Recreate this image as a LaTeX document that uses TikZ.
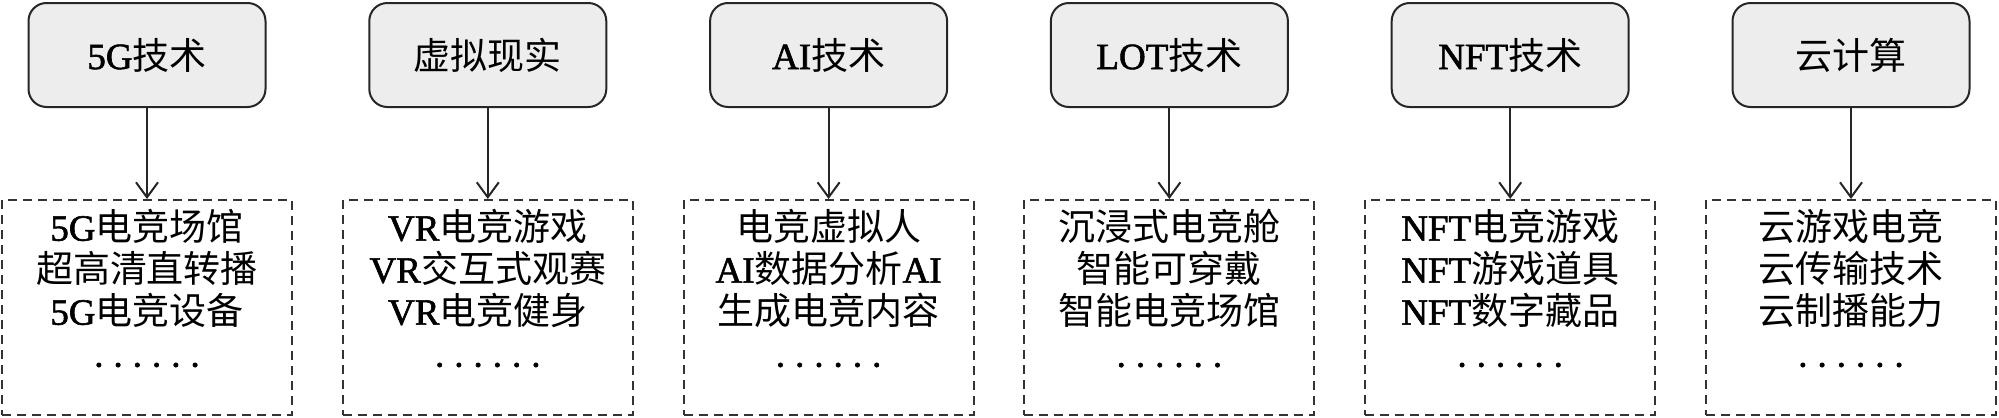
\documentclass[tikz,border=0pt]{standalone}
\usepackage{fontspec}
\setmainfont{Noto Sans CJK SC}
\newfontfamily\en[FakeBold=1.6]{Liberation Serif}
\usetikzlibrary{arrows.meta,positioning,calc}

\newcommand{\lat}[1]{{\en #1}}
\newcommand{\sixdots}{\lat{.\hskip5pt.\hskip5pt.\hskip5pt.\hskip5pt.\hskip5pt.}}

\tikzset{
  techbox/.style={draw=black!85,line width=1pt,fill=black!7,rounded corners=9pt,
    minimum width=118.5pt,minimum height=52pt,inner sep=0pt,
    font=\fontsize{18.5}{21}\selectfont},
  appbox/.style={draw=black!80,line width=1pt,dash pattern=on 4.5pt off 3pt,
    minimum width=145pt,minimum height=107.5pt,inner sep=0pt},
  applist/.style={align=center,inner sep=0pt,font=\fontsize{18.5}{21}\selectfont},
  feed/.style={-{Straight Barb[length=7.5pt,width=11pt]},line width=1pt,draw=black!85}
}

\begin{document}
\begin{tikzpicture}[x=0.5pt,y=-0.5pt]

\useasboundingbox (0,0) rectangle (1999,418);

\foreach \i/\tech/\apps in {
  1/{\lat{5G}技术}/{\lat{5G}电竞场馆\\超高清直转播\\\lat{5G}电竞设备},
  2/{虚拟现实}/{\lat{VR}电竞游戏\\\lat{VR}交互式观赛\\\lat{VR}电竞健身},
  3/{\lat{AI}技术}/{电竞虚拟人\\\lat{AI}数据分析\lat{AI}\\生成电竞内容},
  4/{\lat{LOT}技术}/{沉浸式电竞舱\\智能可穿戴\\智能电竞场馆},
  5/{\lat{NFT}技术}/{\lat{NFT}电竞游戏\\\lat{NFT}游戏道具\\\lat{NFT}数字藏品},
  6/{云计算}/{云游戏电竞\\云传输技术\\云制播能力}}
{
  \coordinate (c\i) at ({147+340.8*(\i-1)},0);
  \node[techbox] (t\i) at ($(c\i)+(0,55)$) {\tech};
  \node[appbox] (b\i) at ($(c\i)+(0,307.5)$) {};
  \node[applist,anchor=north] (l\i) at ($(b\i.north)+(0,10)$) {\apps\\\sixdots};
  \draw[feed] (t\i) -- (b\i);
}

\end{tikzpicture}
\end{document}
